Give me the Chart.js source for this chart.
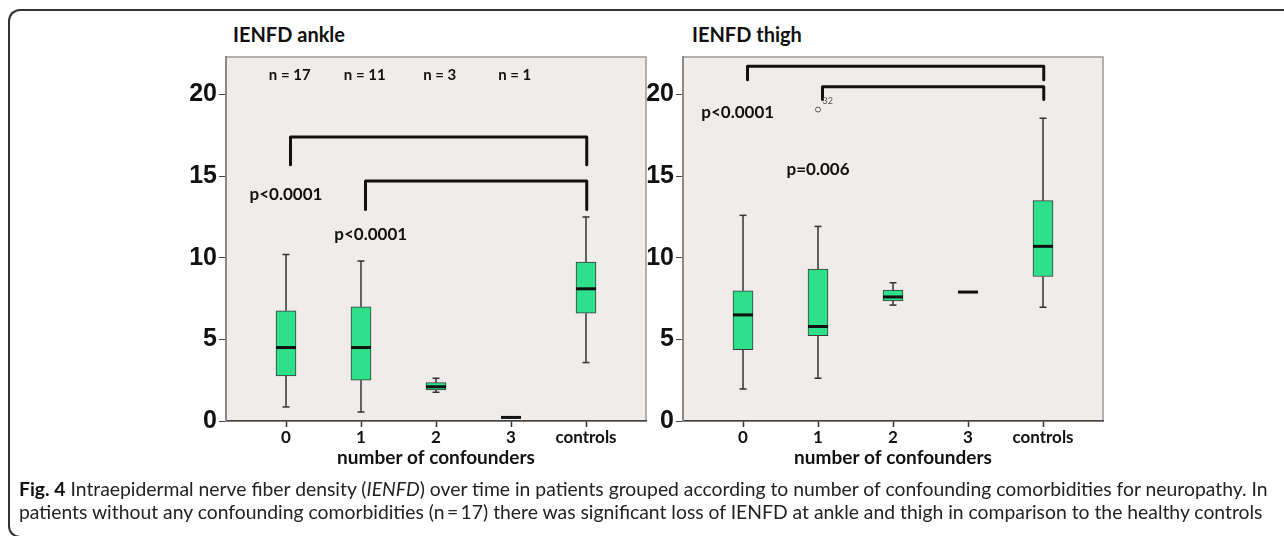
<!DOCTYPE html>
<html>
<head>
<meta charset="utf-8">
<script src="https://cdn.jsdelivr.net/npm/chart.js@4.4.1/dist/chart.umd.min.js"></script>
<style>
html,body{margin:0;padding:0;background:#fff;width:1284px;height:536px;overflow:hidden;}
#frame{position:absolute;left:8px;top:9px;width:1400px;height:529px;border:2px solid #333;border-right:none;border-radius:12px 0 0 12px;box-sizing:border-box;}
.ttl{position:absolute;top:22px;font:bold 20px Lato, sans-serif;color:#111;white-space:nowrap;}
.cv{position:absolute;top:40px;width:520px;height:445px;}
#cap{position:absolute;left:19px;top:477px;font:17px Lato, sans-serif;line-height:23px;color:#222;white-space:nowrap;}
#cap b{color:#111;}
</style>
</head>
<body>
<div id="frame"></div>
<div class="ttl" style="left:233px">IENFD ankle</div>
<div class="ttl" style="left:692px">IENFD thigh</div>
<div class="cv" style="left:150px"><canvas id="ankle" width="520" height="445"></canvas></div>
<div class="cv" style="left:607px"><canvas id="thigh" width="520" height="445"></canvas></div>
<div id="cap"><span id="l1"><b>Fig. 4</b> Intraepidermal nerve fiber density (<i>IENFD</i>) over time in patients grouped according to number of confounding comorbidities for neuropathy. In</span><br><span id="l2">patients without any confounding comorbidities (n&#8201;=&#8201;17) there was significant loss of IENFD at ankle and thigh in comparison to the healthy controls</span></div>
<script>
// ---------- data ----------
const categories = ['0', '1', '2', '3', 'controls'];
const yTicks = [0, 5, 10, 15, 20];

// IENFD ankle
const ankleMin    = [0.86, 0.55, 1.76, 0.22, 3.58];
const ankleQ1     = [2.76, 2.50, 1.90, 0.22, 6.60];
const ankleMedian = [4.50, 4.50, 2.10, 0.22, 8.10];
const ankleQ3     = [6.75, 7.00, 2.35, 0.22, 9.73];
const ankleMax    = [10.2, 9.80, 2.62, 0.22, 12.5];
const groupN      = ['n = 17', 'n = 11', 'n = 3', 'n = 1'];
const ankleP      = ['p<0.0001', 'p<0.0001'];
const ankleBracketFrom = [0, 1];
const ankleBracketTo   = [4, 4];
const ankleBracketTop  = [17.4, 14.7];
const ankleBracketFoot = [15.7, 12.95];

// IENFD thigh
const thighMin    = [1.96, 2.62, 7.10, 7.90, 6.97];
const thighQ1     = [4.37, 5.23, 7.36, 7.90, 8.85];
const thighMedian = [6.50, 5.79, 7.60, 7.90, 10.7];
const thighQ3     = [7.98, 9.30, 8.02, 7.90, 13.5];
const thighMax    = [12.6, 11.92, 8.47, 7.90, 18.55];
const thighOutlierCat   = [1];
const thighOutlierValue = [19.08];
const thighOutlierId    = ['32'];
const thighP      = ['p<0.0001', 'p=0.006'];
const thighBracketFrom = [0, 1];
const thighBracketTo   = [4, 4];
const thighBracketTop  = [21.74, 20.47];
const thighBracketFoot = [20.9, 19.7];

// ---------- helpers ----------
const BOX_GREEN = '#2fe08a';
const INK = '#111';

const panelPlugin = {
  id: 'panel',
  beforeDraw(chart, args, o) {
    const a = chart.chartArea, ctx = chart.ctx;
    ctx.save();
    ctx.fillStyle = o.bg;
    ctx.fillRect(a.left, a.top, a.right - a.left, a.bottom - a.top);
    ctx.strokeStyle = o.frame;
    ctx.lineWidth = 1.5;
    ctx.strokeRect(a.left, a.top, a.right - a.left, a.bottom - a.top);
    ctx.restore();
  },
  afterDatasetsDraw(chart, args, o) {
    const ctx = chart.ctx, xs = chart.scales.x, ys = chart.scales.y;
    ctx.save();
    (o.labels || []).forEach(l => {
      ctx.font = l.font;
      ctx.fillStyle = l.color || INK;
      ctx.textAlign = l.align || 'center';
      ctx.textBaseline = 'middle';
      ctx.fillText(l.text, xs.getPixelForValue(l.x), ys.getPixelForValue(l.y));
    });
    ctx.restore();
  }
};

function whiskerPoints(mn, q1, q3, mx) {
  const pts = [];
  categories.forEach((c, i) => {
    pts.push({x: i, y: mn[i]}, {x: i, y: q1[i]}, {x: i, y: null});
    pts.push({x: i, y: q3[i]}, {x: i, y: mx[i]}, {x: i, y: null});
  });
  return pts;
}

function boxDatasets(mn, q1, med, q3, mx) {
  return [
    {
      type: 'line', label: 'whiskers', order: 3,
      data: whiskerPoints(mn, q1, q3, mx),
      borderColor: '#333', borderWidth: 1.5, pointRadius: 0, spanGaps: false, tension: 0
    },
    {
      type: 'bar', label: 'box', order: 2,
      data: categories.map((c, i) => ({x: i, y: [q1[i], q3[i]]})),
      backgroundColor: BOX_GREEN, borderColor: '#3a3a3a', borderWidth: 1,
      borderSkipped: false, barThickness: 20
    },
    {
      type: 'line', label: 'caps', order: 1, showLine: false,
      data: categories.flatMap((c, i) => [{x: i, y: mn[i]}, {x: i, y: mx[i]}]),
      pointStyle: 'line', pointRadius: 3.5, pointBorderWidth: 1.5, pointBorderColor: '#333'
    },
    {
      type: 'line', label: 'median', order: 0, showLine: false,
      data: categories.map((c, i) => ({x: i, y: med[i]})),
      pointStyle: 'line', pointRadius: 10, pointBorderWidth: 3, pointBorderColor: INK
    }
  ];
}

function bracketDatasets(from, to, top, foot) {
  return from.map((f, k) => ({
    type: 'line', label: 'bracket', order: -1,
    data: [
      {x: f + 0.06, y: foot[k]}, {x: f + 0.06, y: top[k]},
      {x: to[k] + 0.01, y: top[k]}, {x: to[k] + 0.01, y: foot[k]}
    ],
    borderColor: INK, borderWidth: 3, pointRadius: 0, tension: 0,
    borderJoinStyle: 'round', borderCapStyle: 'round'
  }));
}

function makeOptions(labels) {
  return {
    responsive: false,
    animation: false,
    events: [],
    layout: {padding: {left: 0, top: 17, right: 24, bottom: 16}},
    plugins: {
      legend: {display: false},
      tooltip: {enabled: false},
      panel: {bg: '#efece9', frame: '#9a9a9a', labels: labels}
    },
    scales: {
      x: {
        type: 'linear', min: -0.8, max: 4.8, offset: false,
        afterBuildTicks: s => { s.ticks = categories.map((c, i) => ({value: i})); },
        afterFit: s => { s.height = 48; },
        ticks: {
          callback: v => categories[v] !== undefined ? categories[v] : '',
          autoSkip: false, maxRotation: 0, padding: 0,
          font: {family: 'Lato, sans-serif', weight: 'bold', size: 17}, color: INK
        },
        grid: {display: true, drawOnChartArea: false, drawTicks: true, tickLength: 6,
               tickColor: '#333', tickWidth: 1.5, offset: false},
        border: {display: true, color: '#444', width: 1.5},
        title: {display: true, text: 'number of confounders', padding: 0,
                font: {family: 'Lato, sans-serif', weight: 'bold', size: 19}, color: INK}
      },
      y: {
        type: 'linear', min: 0, max: 22.3,
        afterBuildTicks: s => { s.ticks = yTicks.map(v => ({value: v})); },
        afterFit: s => { s.width = 76; },
        ticks: {
          padding: 2,
          font: {family: "'Liberation Sans Narrow', 'Liberation Sans', sans-serif", weight: 'bold', size: 25},
          color: INK
        },
        grid: {display: true, drawOnChartArea: false, drawTicks: true, tickLength: 7,
               tickColor: '#444', tickWidth: 1},
        border: {display: true, color: '#8a8a8a', width: 2}
      }
    }
  };
}

const nFont = 'bold 15px Lato, sans-serif';
const pFont = 'bold 17px Lato, sans-serif';

const ankleLabels = [
  ...groupN.map((t, i) => ({text: t, x: i + 0.05, y: 21.2, font: nFont})),
  {text: ankleP[0], x: 0.0, y: 13.9, font: pFont},
  {text: ankleP[1], x: 1.13, y: 11.4, font: pFont}
];

const thighLabels = [
  {text: thighP[0], x: -0.07, y: 18.9, font: pFont},
  {text: thighP[1], x: 1.0, y: 15.4, font: pFont},
  ...thighOutlierId.map((t, k) => ({text: t, x: thighOutlierCat[k] + 0.06, y: thighOutlierValue[k] + 0.5,
                                     font: '9px Lato, sans-serif', color: '#555', align: 'left'}))
];

function build() {
  new Chart(document.getElementById('ankle'), {
    type: 'bar',
    data: {datasets: [
      ...boxDatasets(ankleMin, ankleQ1, ankleMedian, ankleQ3, ankleMax),
      ...bracketDatasets(ankleBracketFrom, ankleBracketTo, ankleBracketTop, ankleBracketFoot)
    ]},
    options: makeOptions(ankleLabels),
    plugins: [panelPlugin]
  });

  new Chart(document.getElementById('thigh'), {
    type: 'bar',
    data: {datasets: [
      ...boxDatasets(thighMin, thighQ1, thighMedian, thighQ3, thighMax),
      {
        type: 'line', label: 'outliers', order: -2, showLine: false,
        data: thighOutlierCat.map((c, k) => ({x: c, y: thighOutlierValue[k]})),
        pointStyle: 'circle', pointRadius: 2.5, pointBorderWidth: 1,
        pointBorderColor: '#555', pointBackgroundColor: '#f5f5f5'
      },
      ...bracketDatasets(thighBracketFrom, thighBracketTo, thighBracketTop, thighBracketFoot)
    ]},
    options: makeOptions(thighLabels),
    plugins: [panelPlugin]
  });

  // fit caption line 1 to the reference width
  const l1 = document.getElementById('l1');
  const w = l1.getBoundingClientRect().width;
  const target = 1249;
  const cap = document.getElementById('cap');
  cap.style.fontSize = (17 * target / w).toFixed(2) + 'px';
}

if (document.fonts && document.fonts.ready) {
  document.fonts.ready.then(build);
} else {
  build();
}
</script>
</body>
</html>
